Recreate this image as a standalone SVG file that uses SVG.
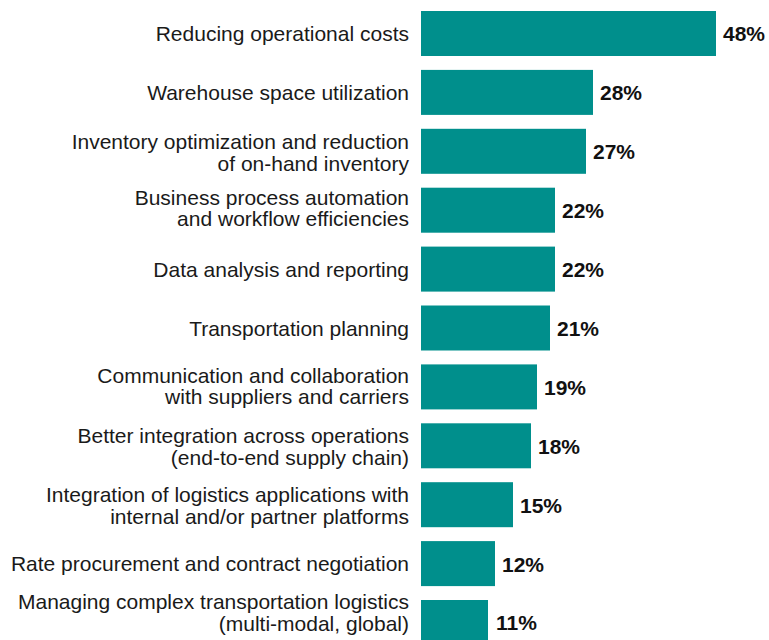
<svg xmlns="http://www.w3.org/2000/svg" width="769" height="640" viewBox="0 0 769 640">
<style>
.bar{fill:#008F8C}
.lbl{font-family:"Liberation Sans",Arial,sans-serif;font-size:21px;fill:#1a1a1a;text-anchor:end}
.val{font-family:"Liberation Sans",Arial,sans-serif;font-size:21px;font-weight:bold;fill:#111}
</style>
<rect width="769" height="640" fill="#fff"/>
<g id="row1"><rect class="bar" x="421" y="11" width="295" height="45"/><text class="lbl" x="409" y="41">Reducing operational costs</text><text class="val" x="723" y="41">48%</text></g>
<g id="row2"><rect class="bar" x="421" y="69.9" width="172" height="45"/><text class="lbl" x="409" y="100">Warehouse space utilization</text><text class="val" x="600" y="100">28%</text></g>
<g id="row3"><rect class="bar" x="421" y="128.8" width="165" height="45"/><text class="lbl" x="409" y="149">Inventory optimization and reduction</text><text class="lbl" x="409" y="170.5">of on-hand inventory</text><text class="val" x="593" y="159">27%</text></g>
<g id="row4"><rect class="bar" x="421" y="187.7" width="134" height="45"/><text class="lbl" x="409" y="204.5">Business process automation</text><text class="lbl" x="409" y="226">and workflow efficiencies</text><text class="val" x="562" y="218">22%</text></g>
<g id="row5"><rect class="bar" x="421" y="246.6" width="134" height="45"/><text class="lbl" x="409" y="276.5">Data analysis and reporting</text><text class="val" x="562" y="277">22%</text></g>
<g id="row6"><rect class="bar" x="421" y="305.5" width="129" height="45"/><text class="lbl" x="409" y="335.5">Transportation planning</text><text class="val" x="557" y="336">21%</text></g>
<g id="row7"><rect class="bar" x="421" y="364.4" width="116" height="45"/><text class="lbl" x="409" y="382.5">Communication and collaboration</text><text class="lbl" x="409" y="404">with suppliers and carriers</text><text class="val" x="544" y="395">19%</text></g>
<g id="row8"><rect class="bar" x="421" y="423.3" width="110" height="45"/><text class="lbl" x="409" y="443">Better integration across operations</text><text class="lbl" x="409" y="464.5">(end-to-end supply chain)</text><text class="val" x="538" y="453.5">18%</text></g>
<g id="row9"><rect class="bar" x="421" y="482.2" width="92" height="45"/><text class="lbl" x="409" y="502">Integration of logistics applications with</text><text class="lbl" x="409" y="523.5">internal and/or partner platforms</text><text class="val" x="520" y="512.5">15%</text></g>
<g id="row10"><rect class="bar" x="421" y="541.1" width="74" height="45"/><text class="lbl" x="409" y="571">Rate procurement and contract negotiation</text><text class="val" x="502" y="571.5">12%</text></g>
<g id="row11"><rect class="bar" x="421" y="600" width="67" height="45"/><text class="lbl" x="409" y="609">Managing complex transportation logistics</text><text class="lbl" x="409" y="630.5">(multi-modal, global)</text><text class="val" x="496" y="630">11%</text></g>
<g id="connectors"/>
</svg>
